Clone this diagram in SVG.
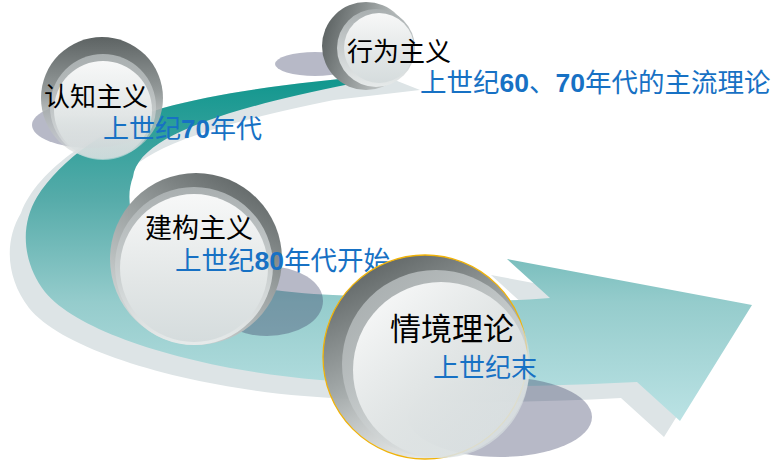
<svg xmlns="http://www.w3.org/2000/svg" width="776" height="460" viewBox="0 0 776 460">
  <defs>
    <style>
      .head { font-family: "Noto Sans CJK SC", "Noto Sans", sans-serif; fill: #000000; }
      .sub { font-family: "Noto Sans CJK SC", "Noto Sans", sans-serif; fill: #1771c4; }
      .num { font-family: "Liberation Sans", Arial, sans-serif; font-weight: bold; }
      .cast { fill: rgb(61,66,104); fill-opacity: 0.37; }
    </style>

    <!-- curved arrow body -->
    <linearGradient id="bandFill" gradientUnits="userSpaceOnUse" x1="0" y1="75" x2="0" y2="425">
      <stop offset="0" stop-color="#0f968d"/>
      <stop offset="0.35" stop-color="#55aba9"/>
      <stop offset="0.65" stop-color="#95cccc"/>
      <stop offset="1" stop-color="#bce3e5"/>
    </linearGradient>

    <!-- glass ball: dark outer ring, lighter rim, bright core -->
    <linearGradient id="ring1" x1="0.5" y1="0" x2="0.5" y2="1">
      <stop offset="0" stop-color="#5d6363"/>
      <stop offset="0.45" stop-color="#959b9b"/>
      <stop offset="1" stop-color="#d9dddd" stop-opacity="0.5"/>
    </linearGradient>
    <linearGradient id="ring2" x1="0" y1="0.35" x2="1" y2="0.65">
      <stop offset="0" stop-color="#5d6363"/>
      <stop offset="0.45" stop-color="#959b9b"/>
      <stop offset="1" stop-color="#dde1e1"/>
    </linearGradient>
    <linearGradient id="ring3" x1="0.8" y1="0" x2="0.2" y2="1">
      <stop offset="0" stop-color="#5d6363"/>
      <stop offset="0.45" stop-color="#9ba1a1"/>
      <stop offset="1" stop-color="#dde1e1"/>
    </linearGradient>
    <linearGradient id="ring4" x1="0.25" y1="0" x2="0.75" y2="1">
      <stop offset="0" stop-color="#5d6363"/>
      <stop offset="0.45" stop-color="#a0a6a6"/>
      <stop offset="1" stop-color="#dde1e1" stop-opacity="0.45"/>
    </linearGradient>

    <linearGradient id="rim" x1="0.5" y1="0" x2="0.5" y2="1">
      <stop offset="0" stop-color="#a9afb0"/>
      <stop offset="1" stop-color="#e6eaea"/>
    </linearGradient>
    <linearGradient id="rimFade" x1="0.5" y1="0" x2="0.5" y2="1">
      <stop offset="0" stop-color="#a9afb0"/>
      <stop offset="1" stop-color="#e6eaea" stop-opacity="0.55"/>
    </linearGradient>
    <linearGradient id="rimSide" x1="0.2" y1="0" x2="0.9" y2="0.8">
      <stop offset="0" stop-color="#a9afb0"/>
      <stop offset="1" stop-color="#e6eaea" stop-opacity="0.6"/>
    </linearGradient>

    <linearGradient id="core" x1="0.5" y1="0" x2="0.5" y2="1">
      <stop offset="0" stop-color="#f7f8f8"/>
      <stop offset="0.6" stop-color="#e2e6e6"/>
      <stop offset="1" stop-color="#d5dcdd"/>
    </linearGradient>
    <linearGradient id="coreFade" x1="0.5" y1="0" x2="0.5" y2="1">
      <stop offset="0" stop-color="#f7f8f8"/>
      <stop offset="0.55" stop-color="#e2e6e6"/>
      <stop offset="1" stop-color="#d5dcdd" stop-opacity="0.5"/>
    </linearGradient>
    <linearGradient id="coreSide" x1="0.2" y1="0" x2="0.9" y2="0.8">
      <stop offset="0" stop-color="#f7f8f8"/>
      <stop offset="0.55" stop-color="#e3e7e7" stop-opacity="0.92"/>
      <stop offset="1" stop-color="#d8dfe0" stop-opacity="0.7"/>
    </linearGradient>
  </defs>

  <rect width="776" height="460" fill="#ffffff"/>

  <!-- curved arrow running through the four stages -->
  <g id="connectors">
    <path id="arrow-shadow" fill="#dde4e6" d="M 420 90 L 382 75 C 300 82 220 92 163 108 C 100 128 38 168 21 213 C 4 241 6 278 29 308 C 64 351 184 386 304 396 C 404 404 504 404 621 398 L 664 437 L 736 321 L 491 275 L 534 314 C 464 320 384 314 317 311 C 254 308 174 298 134 261 C 112 238 110 211 117 193 C 122 156 194 128 334 100 L 420 90 Z"/>
    <path id="arrow-body" fill="url(#bandFill)" d="M 382 75 C 300 82 220 92 163 108 C 110 124 60 160 37 197 C 20 225 22 262 45 292 C 80 335 200 370 320 380 C 420 388 520 388 637 382 L 680 421 L 752 305 L 507 259 L 550 298 C 480 304 400 298 333 295 C 270 292 190 282 150 245 C 128 222 126 195 133 177 C 138 140 210 112 350 84 L 382 78 Z"/>
  </g>

  <!-- 认知主义 -->
  <g id="node-cognitivism">
    <ellipse class="cast" cx="90" cy="125" rx="58" ry="23"/>
    <circle cx="102" cy="98" r="61" fill="url(#ring1)"/>
    <circle cx="103" cy="107" r="53" fill="url(#rimFade)"/>
    <circle cx="103" cy="110" r="49" fill="url(#coreFade)"/>
    <text class="head" x="44" y="106" font-size="26">认知主义</text>
    <text class="sub" x="103" y="138" font-size="26">上世纪<tspan class="num">70</tspan>年代</text>
  </g>

  <!-- 行为主义 -->
  <g id="node-behaviorism">
    <ellipse class="cast" cx="315" cy="64" rx="40" ry="12"/>
    <circle cx="366" cy="46" r="44" fill="url(#ring2)"/>
    <circle cx="376" cy="48" r="39" fill="url(#rim)"/>
    <circle cx="379" cy="48" r="35" fill="url(#core)"/>
    <text class="head" x="347" y="61" font-size="26">行为主义</text>
    <text class="sub" x="420" y="92" font-size="26.5">上世纪<tspan class="num">60</tspan>、<tspan class="num">70</tspan>年代的主流理论</text>
  </g>

  <!-- 建构主义 -->
  <g id="node-constructivism">
    <ellipse class="cast" cx="267" cy="301" rx="56" ry="35"/>
    <circle cx="196" cy="259" r="86" fill="url(#ring3)"/>
    <circle cx="194" cy="266" r="79" fill="url(#rim)"/>
    <circle cx="194" cy="268" r="74" fill="url(#core)"/>
    <text class="head" x="145" y="238" font-size="27">建构主义</text>
    <text class="sub" x="175" y="270" font-size="26.5">上世纪<tspan class="num">80</tspan>年代开始</text>
  </g>

  <!-- 情境理论 -->
  <g id="node-situated">
    <ellipse class="cast" cx="500" cy="417" rx="92" ry="40"/>
    <circle cx="425" cy="357" r="102" fill="url(#ring4)" stroke="#f0b30a" stroke-width="1.3"/>
    <circle cx="436" cy="364" r="94" fill="url(#rimSide)"/>
    <circle cx="441" cy="370" r="88" fill="url(#coreSide)"/>
    <text class="head" x="390" y="340" font-size="31">情境理论</text>
    <text class="sub" x="433" y="377" font-size="26">上世纪末</text>
  </g>
</svg>
